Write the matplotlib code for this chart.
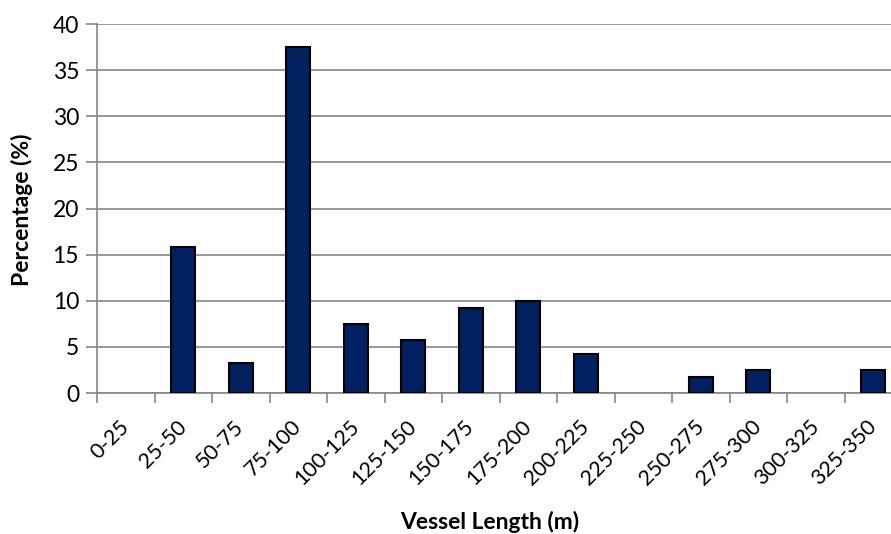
import numpy as np
import matplotlib
matplotlib.use('Agg')
import matplotlib.pyplot as plt

plt.rcParams['font.family'] = ['Lato', 'DejaVu Sans']

# data
categories = ['0-25', '25-50', '50-75', '75-100', '100-125', '125-150', '150-175',
              '175-200', '200-225', '225-250', '250-275', '275-300', '300-325', '325-350']
percentage = [0, 15.8, 3.3, 37.5, 7.5, 5.8, 9.2, 10.0, 4.2, 0, 1.7, 2.5, 0, 2.5]

fig = plt.figure(figsize=(8.91, 5.34), dpi=100)
ax = fig.add_axes([0.109, 0.264, 0.9035, 0.691])

x = np.arange(len(categories))
# empty classes get no outline
edge_w = [1.5 if v > 0 else 0 for v in percentage]
ax.bar(x, percentage, width=0.42, color='#002060', edgecolor='black', linewidth=edge_w, zorder=3)

ax.set_xlim(-0.5, len(categories) - 0.5)
ax.set_ylim(0, 40)
ax.set_yticks(np.arange(0, 41, 5))
ax.yaxis.grid(True, color='#868686', linewidth=1.2, zorder=0)

# ticks between categories
ax.set_xticks(np.arange(-0.5, len(categories), 1))
ax.set_xticklabels([])
ax.set_xticks(x, minor=True)
ax.set_xticklabels(categories, minor=True, rotation=45, ha='right', va='center',
                   rotation_mode='anchor', fontsize=15.5)
ax.tick_params(axis='x', which='minor', length=0, pad=22)
ax.tick_params(axis='x', which='major', length=7, color='#868686', width=1.2)
ax.tick_params(axis='y', length=8, color='#868686', width=1.2, labelsize=16.5, pad=5)

for s in ['top', 'right']:
    ax.spines[s].set_visible(False)
ax.spines['left'].set_color('#868686')
ax.spines['bottom'].set_color('#868686')
ax.spines['left'].set_linewidth(1.2)
ax.spines['bottom'].set_linewidth(1.2)

ax.set_ylabel('Percentage (%)', fontsize=16.5, fontweight='bold', va='center')
ax.yaxis.set_label_coords(-0.093, 0.496)
ax.set_xlabel('Vessel Length (m)', fontsize=16.5, fontweight='bold', va='center')
ax.xaxis.set_label_coords(0.488, -0.35)

fig.savefig('out.png', dpi=100)
